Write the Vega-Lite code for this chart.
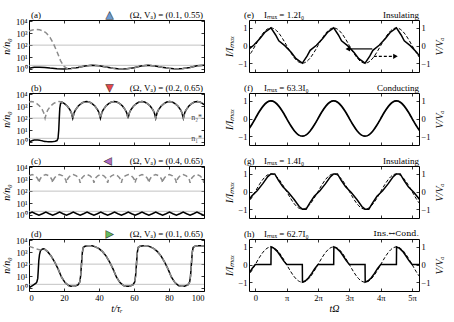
{
"$schema": "https://vega.github.io/schema/vega-lite/v6.json",
"padding": {"left": 1, "top": 9, "right": 2, "bottom": 2},
"config": {
  "font": "Liberation Serif",
  "view": {"stroke": "#000", "strokeWidth": 1},
  "axis": {"grid": false, "domain": false, "tickSize": -3, "tickColor": "#000", "tickWidth": 0.8, "labelFontSize": 8.5, "labelColor": "#000", "titleFontSize": 10, "titleFontWeight": "normal", "titleFontStyle": "italic", "titleColor": "#000", "labelFont": "Liberation Serif", "titleFont": "Liberation Serif", "labelPadding": 5},
  "text": {"font": "Liberation Serif", "fontSize": 9, "color": "#000"}
},
"datasets": {
  "one": [{}],
  "nstar": [{"n": 100}, {"n": 2}],
  "a_s": [{"t":0,"n":1.12},{"t":3,"n":1.35},{"t":6,"n":1.41},{"t":9,"n":1.32},{"t":12,"n":1.17},{"t":16,"n":1.05},{"t":20,"n":1.0},{"t":24,"n":1.07},{"t":28,"n":1.32},{"t":32,"n":1.74},{"t":36,"n":2.0},{"t":40,"n":1.82},{"t":44,"n":1.45},{"t":48,"n":1.15},{"t":52,"n":1.0},{"t":56,"n":1.05},{"t":60,"n":1.26},{"t":64,"n":1.78},{"t":68,"n":2.0},{"t":72,"n":1.78},{"t":76,"n":1.38},{"t":80,"n":1.12},{"t":84,"n":1.0},{"t":88,"n":1.07},{"t":92,"n":1.32},{"t":96,"n":1.82},{"t":100,"n":2.0}],
  "a_d": [{"t":0,"n":1500},{"t":2,"n":1900},{"t":4,"n":2050},{"t":6,"n":1950},{"t":8,"n":1600},{"t":10,"n":1000},{"t":12,"n":450},{"t":14,"n":130},{"t":16,"n":28},{"t":18,"n":5},{"t":20,"n":1.6},{"t":22,"n":1.05},{"t":24,"n":1.07},{"t":28,"n":1.32},{"t":32,"n":1.74},{"t":36,"n":2.0},{"t":40,"n":1.82},{"t":44,"n":1.45},{"t":48,"n":1.15},{"t":52,"n":1.0},{"t":56,"n":1.05},{"t":60,"n":1.26},{"t":64,"n":1.78},{"t":68,"n":2.0},{"t":72,"n":1.78},{"t":76,"n":1.38},{"t":80,"n":1.12},{"t":84,"n":1.0},{"t":88,"n":1.07},{"t":92,"n":1.32},{"t":96,"n":1.82},{"t":100,"n":2.0}],
  "b_s": [{"t":0,"n":1.0},{"t":1,"n":1.15},{"t":2,"n":1.3},{"t":3,"n":1.42},{"t":4,"n":1.48},{"t":5,"n":1.45},{"t":6,"n":1.38},{"t":7,"n":1.28},{"t":8,"n":1.18},{"t":9,"n":1.1},{"t":10,"n":1.06},{"t":11,"n":1.04},{"t":12,"n":1.04},{"t":13,"n":1.05},{"t":14,"n":1.08},{"t":15,"n":1.13},{"t":16,"n":1.3},{"t":16.6,"n":2},{"t":17,"n":10},{"t":17.3,"n":100},{"t":17.6,"n":700},{"t":18,"n":1600},{"t":18.68,"n":2239},{"t":20.26,"n":1660},{"t":21.84,"n":1047},{"t":23.42,"n":501},{"t":24.21,"n":282},{"t":25,"n":100},
    {"t":25.79,"n":282},{"t":26.58,"n":501},{"t":28.16,"n":1047},{"t":29.74,"n":1660},{"t":31.32,"n":2239},{"t":32.9,"n":2512},{"t":34.48,"n":2239},{"t":36.06,"n":1660},{"t":37.64,"n":1047},{"t":39.22,"n":501},{"t":40.01,"n":282},{"t":40.8,"n":100},
    {"t":41.59,"n":282},{"t":42.38,"n":501},{"t":43.96,"n":1047},{"t":45.54,"n":1660},{"t":47.12,"n":2239},{"t":48.7,"n":2512},{"t":50.28,"n":2239},{"t":51.86,"n":1660},{"t":53.44,"n":1047},{"t":55.02,"n":501},{"t":55.81,"n":282},{"t":56.6,"n":100},
    {"t":57.39,"n":282},{"t":58.18,"n":501},{"t":59.76,"n":1047},{"t":61.34,"n":1660},{"t":62.92,"n":2239},{"t":64.5,"n":2512},{"t":66.08,"n":2239},{"t":67.66,"n":1660},{"t":69.24,"n":1047},{"t":70.82,"n":501},{"t":71.61,"n":282},{"t":72.4,"n":100},
    {"t":73.19,"n":282},{"t":73.98,"n":501},{"t":75.56,"n":1047},{"t":77.14,"n":1660},{"t":78.72,"n":2239},{"t":80.3,"n":2512},{"t":81.88,"n":2239},{"t":83.46,"n":1660},{"t":85.04,"n":1047},{"t":86.62,"n":501},{"t":87.41,"n":282},{"t":88.2,"n":100},
    {"t":88.99,"n":282},{"t":89.78,"n":501},{"t":91.36,"n":1047},{"t":92.94,"n":1660},{"t":94.52,"n":2239},{"t":96.1,"n":2512},{"t":97.68,"n":2239},{"t":99.26,"n":1660},{"t":100,"n":1350}],
  "b_d": [{"t":0,"n":2290},{"t":1.3,"n":2512},{"t":2.88,"n":2239},{"t":4.46,"n":1660},{"t":6.04,"n":1047},{"t":7.62,"n":501},{"t":8.41,"n":282},{"t":9.2,"n":100},
    {"t":9.99,"n":282},{"t":10.78,"n":501},{"t":12.36,"n":1047},{"t":13.94,"n":1660},{"t":15.52,"n":2239},{"t":17.1,"n":2512},{"t":18.68,"n":2239},{"t":20.26,"n":1660},{"t":21.84,"n":1047},{"t":23.42,"n":501},{"t":24.21,"n":282},{"t":25,"n":100},
    {"t":25.79,"n":282},{"t":26.58,"n":501},{"t":28.16,"n":1047},{"t":29.74,"n":1660},{"t":31.32,"n":2239},{"t":32.9,"n":2512},{"t":34.48,"n":2239},{"t":36.06,"n":1660},{"t":37.64,"n":1047},{"t":39.22,"n":501},{"t":40.01,"n":282},{"t":40.8,"n":100},
    {"t":41.59,"n":282},{"t":42.38,"n":501},{"t":43.96,"n":1047},{"t":45.54,"n":1660},{"t":47.12,"n":2239},{"t":48.7,"n":2512},{"t":50.28,"n":2239},{"t":51.86,"n":1660},{"t":53.44,"n":1047},{"t":55.02,"n":501},{"t":55.81,"n":282},{"t":56.6,"n":100},
    {"t":57.39,"n":282},{"t":58.18,"n":501},{"t":59.76,"n":1047},{"t":61.34,"n":1660},{"t":62.92,"n":2239},{"t":64.5,"n":2512},{"t":66.08,"n":2239},{"t":67.66,"n":1660},{"t":69.24,"n":1047},{"t":70.82,"n":501},{"t":71.61,"n":282},{"t":72.4,"n":100},
    {"t":73.19,"n":282},{"t":73.98,"n":501},{"t":75.56,"n":1047},{"t":77.14,"n":1660},{"t":78.72,"n":2239},{"t":80.3,"n":2512},{"t":81.88,"n":2239},{"t":83.46,"n":1660},{"t":85.04,"n":1047},{"t":86.62,"n":501},{"t":87.41,"n":282},{"t":88.2,"n":100},
    {"t":88.99,"n":282},{"t":89.78,"n":501},{"t":91.36,"n":1047},{"t":92.94,"n":1660},{"t":94.52,"n":2239},{"t":96.1,"n":2512},{"t":97.68,"n":2239},{"t":99.26,"n":1660},{"t":100,"n":1350}],
  "c_s": [{"t":0,"n":1.3},{"t":1.775,"n":1.7},{"t":3.74,"n":1.25},{"t":5.7,"n":0.95},
    {"t":7.66,"n":1.25},{"t":9.625,"n":1.7},{"t":11.59,"n":1.25},{"t":13.55,"n":0.95},
    {"t":15.51,"n":1.25},{"t":17.475,"n":1.7},{"t":19.44,"n":1.25},{"t":21.4,"n":0.95},
    {"t":23.36,"n":1.25},{"t":25.325,"n":1.7},{"t":27.29,"n":1.25},{"t":29.25,"n":0.95},
    {"t":31.21,"n":1.25},{"t":33.175,"n":1.7},{"t":35.14,"n":1.25},{"t":37.1,"n":0.95},
    {"t":39.06,"n":1.25},{"t":41.025,"n":1.7},{"t":42.99,"n":1.25},{"t":44.95,"n":0.95},
    {"t":46.91,"n":1.25},{"t":48.875,"n":1.7},{"t":50.84,"n":1.25},{"t":52.8,"n":0.95},
    {"t":54.76,"n":1.25},{"t":56.725,"n":1.7},{"t":58.69,"n":1.25},{"t":60.65,"n":0.95},
    {"t":62.61,"n":1.25},{"t":64.575,"n":1.7},{"t":66.54,"n":1.25},{"t":68.5,"n":0.95},
    {"t":70.46,"n":1.25},{"t":72.425,"n":1.7},{"t":74.39,"n":1.25},{"t":76.35,"n":0.95},
    {"t":78.31,"n":1.25},{"t":80.275,"n":1.7},{"t":82.24,"n":1.25},{"t":84.2,"n":0.95},
    {"t":86.16,"n":1.25},{"t":88.125,"n":1.7},{"t":90.09,"n":1.25},{"t":92.05,"n":0.95},
    {"t":94.01,"n":1.25},{"t":95.975,"n":1.7},{"t":97.94,"n":1.25},{"t":99.9,"n":0.95},{"t":100,"n":0.96}],
  "c_d": [{"t":0,"n":1950},{"t":1.775,"n":2512},{"t":3.5,"n":1950},{"t":4.6,"n":1318},{"t":5.3,"n":891},{"t":5.7,"n":501},
    {"t":6.1,"n":891},{"t":6.8,"n":1318},{"t":7.9,"n":1950},{"t":9.625,"n":2512},{"t":11.35,"n":1950},{"t":12.45,"n":1318},{"t":13.15,"n":891},{"t":13.55,"n":501},
    {"t":13.95,"n":891},{"t":14.65,"n":1318},{"t":15.75,"n":1950},{"t":17.475,"n":2512},{"t":19.2,"n":1950},{"t":20.3,"n":1318},{"t":21,"n":891},{"t":21.4,"n":501},
    {"t":21.8,"n":891},{"t":22.5,"n":1318},{"t":23.6,"n":1950},{"t":25.325,"n":2512},{"t":27.05,"n":1950},{"t":28.15,"n":1318},{"t":28.85,"n":891},{"t":29.25,"n":501},
    {"t":29.65,"n":891},{"t":30.35,"n":1318},{"t":31.45,"n":1950},{"t":33.175,"n":2512},{"t":34.9,"n":1950},{"t":36,"n":1318},{"t":36.7,"n":891},{"t":37.1,"n":501},
    {"t":37.5,"n":891},{"t":38.2,"n":1318},{"t":39.3,"n":1950},{"t":41.025,"n":2512},{"t":42.75,"n":1950},{"t":43.85,"n":1318},{"t":44.55,"n":891},{"t":44.95,"n":501},
    {"t":45.35,"n":891},{"t":46.05,"n":1318},{"t":47.15,"n":1950},{"t":48.875,"n":2512},{"t":50.6,"n":1950},{"t":51.7,"n":1318},{"t":52.4,"n":891},{"t":52.8,"n":501},
    {"t":53.2,"n":891},{"t":53.9,"n":1318},{"t":55,"n":1950},{"t":56.725,"n":2512},{"t":58.45,"n":1950},{"t":59.55,"n":1318},{"t":60.25,"n":891},{"t":60.65,"n":501},
    {"t":61.05,"n":891},{"t":61.75,"n":1318},{"t":62.85,"n":1950},{"t":64.575,"n":2512},{"t":66.3,"n":1950},{"t":67.4,"n":1318},{"t":68.1,"n":891},{"t":68.5,"n":501},
    {"t":68.9,"n":891},{"t":69.6,"n":1318},{"t":70.7,"n":1950},{"t":72.425,"n":2512},{"t":74.15,"n":1950},{"t":75.25,"n":1318},{"t":75.95,"n":891},{"t":76.35,"n":501},
    {"t":76.75,"n":891},{"t":77.45,"n":1318},{"t":78.55,"n":1950},{"t":80.275,"n":2512},{"t":82,"n":1950},{"t":83.1,"n":1318},{"t":83.8,"n":891},{"t":84.2,"n":501},
    {"t":84.6,"n":891},{"t":85.3,"n":1318},{"t":86.4,"n":1950},{"t":88.125,"n":2512},{"t":89.85,"n":1950},{"t":90.95,"n":1318},{"t":91.65,"n":891},{"t":92.05,"n":501},
    {"t":92.45,"n":891},{"t":93.15,"n":1318},{"t":94.25,"n":1950},{"t":95.975,"n":2512},{"t":97.7,"n":1950},{"t":98.8,"n":1318},{"t":99.5,"n":891},{"t":99.9,"n":501},{"t":100,"n":600}],
  "d_s": [{"t":0,"n":1.0},{"t":1,"n":1.26},{"t":2,"n":1.58},{"t":3,"n":2.0},{"t":4,"n":2.51},{"t":4.5,"n":3.16},{"t":5,"n":6.31},{"t":5.3,"n":31.6},{"t":5.6,"n":200},{"t":6,"n":631},{"t":6.5,"n":1259},{"t":7,"n":1585},{"t":7.8,"n":1905},{"t":8.6,"n":1995},{"t":10.6,"n":1122},{"t":12.6,"n":501},{"t":14.6,"n":158},{"t":16.6,"n":39.8},{"t":18.6,"n":7.94},{"t":20.6,"n":2.82},{"t":22.6,"n":1.58},{"t":24,"n":1.41},{"t":26,"n":1.41},{"t":28,"n":1.78},{"t":29,"n":3.16},{"t":29.5,"n":10},{"t":30,"n":100},{"t":30.5,"n":1000},{"t":31,"n":2512},{"t":32,"n":3162},{"t":34,"n":3548},{"t":36,"n":3548},{"t":38,"n":2818},{"t":40,"n":1995},{"t":42,"n":1122},{"t":44,"n":501},{"t":46,"n":158},{"t":48,"n":39.8},{"t":50,"n":7.94},{"t":52,"n":2.82},{"t":54,"n":1.58},{"t":55.4,"n":1.41},{"t":57.4,"n":1.41},{"t":59.4,"n":1.78},{"t":60.4,"n":3.16},{"t":60.9,"n":10},{"t":61.4,"n":100},{"t":61.9,"n":1000},{"t":62.4,"n":2512},{"t":63.4,"n":3162},{"t":65.4,"n":3548},{"t":67.4,"n":3548},{"t":69.4,"n":2818},{"t":71.4,"n":1995},{"t":73.4,"n":1122},{"t":75.4,"n":501},{"t":77.4,"n":158},{"t":79.4,"n":39.8},{"t":81.4,"n":7.94},{"t":83.4,"n":2.82},{"t":85.4,"n":1.58},{"t":86.8,"n":1.41},{"t":88.8,"n":1.41},{"t":90.8,"n":1.78},{"t":91.8,"n":3.16},{"t":92.3,"n":10},{"t":92.8,"n":100},{"t":93.3,"n":1000},{"t":93.8,"n":2512},{"t":94.8,"n":3162},{"t":96.8,"n":3548},{"t":98.8,"n":3548},{"t":100,"n":3100}],
  "d_d": [{"t":0,"n":3162},{"t":1,"n":2818},{"t":2,"n":2512},{"t":3,"n":2239},{"t":4,"n":1995},{"t":5,"n":1778},{"t":6,"n":1660},{"t":7,"n":1660},{"t":7.8,"n":1905},{"t":8.6,"n":1995},{"t":10.6,"n":1122},{"t":12.6,"n":501},{"t":14.6,"n":158},{"t":16.6,"n":39.8},{"t":18.6,"n":7.94},{"t":20.6,"n":2.82},{"t":22.6,"n":1.58},{"t":24,"n":1.41},{"t":26,"n":1.41},{"t":28,"n":1.78},{"t":29,"n":3.16},{"t":29.5,"n":10},{"t":30,"n":100},{"t":30.5,"n":1000},{"t":31,"n":2512},{"t":32,"n":3162},{"t":34,"n":3548},{"t":36,"n":3548},{"t":38,"n":2818},{"t":40,"n":1995},{"t":42,"n":1122},{"t":44,"n":501},{"t":46,"n":158},{"t":48,"n":39.8},{"t":50,"n":7.94},{"t":52,"n":2.82},{"t":54,"n":1.58},{"t":55.4,"n":1.41},{"t":57.4,"n":1.41},{"t":59.4,"n":1.78},{"t":60.4,"n":3.16},{"t":60.9,"n":10},{"t":61.4,"n":100},{"t":61.9,"n":1000},{"t":62.4,"n":2512},{"t":63.4,"n":3162},{"t":65.4,"n":3548},{"t":67.4,"n":3548},{"t":69.4,"n":2818},{"t":71.4,"n":1995},{"t":73.4,"n":1122},{"t":75.4,"n":501},{"t":77.4,"n":158},{"t":79.4,"n":39.8},{"t":81.4,"n":7.94},{"t":83.4,"n":2.82},{"t":85.4,"n":1.58},{"t":86.8,"n":1.41},{"t":88.8,"n":1.41},{"t":90.8,"n":1.78},{"t":91.8,"n":3.16},{"t":92.3,"n":10},{"t":92.8,"n":100},{"t":93.3,"n":1000},{"t":93.8,"n":2512},{"t":94.8,"n":3162},{"t":96.8,"n":3548},{"t":98.8,"n":3548},{"t":100,"n":3100}],
  "sine": [{"x":-0.25,"v":-0.707},{"x":-0.125,"v":-0.383},{"x":0,"v":0},{"x":0.125,"v":0.383},{"x":0.25,"v":0.707},{"x":0.375,"v":0.924},{"x":0.5,"v":1},{"x":0.625,"v":0.924},{"x":0.75,"v":0.707},{"x":0.875,"v":0.383},{"x":1,"v":0},{"x":1.125,"v":-0.383},{"x":1.25,"v":-0.707},{"x":1.375,"v":-0.924},{"x":1.5,"v":-1},{"x":1.625,"v":-0.924},{"x":1.75,"v":-0.707},{"x":1.875,"v":-0.383},{"x":2,"v":0},{"x":2.125,"v":0.383},{"x":2.25,"v":0.707},{"x":2.375,"v":0.924},{"x":2.5,"v":1},{"x":2.625,"v":0.924},{"x":2.75,"v":0.707},{"x":2.875,"v":0.383},{"x":3,"v":0},{"x":3.125,"v":-0.383},{"x":3.25,"v":-0.707},{"x":3.375,"v":-0.924},{"x":3.5,"v":-1},{"x":3.625,"v":-0.924},{"x":3.75,"v":-0.707},{"x":3.875,"v":-0.383},{"x":4,"v":0},{"x":4.125,"v":0.383},{"x":4.25,"v":0.707},{"x":4.375,"v":0.924},{"x":4.5,"v":1},{"x":4.625,"v":0.924},{"x":4.75,"v":0.707},{"x":4.875,"v":0.383},{"x":5,"v":0},{"x":5.125,"v":-0.383},{"x":5.25,"v":-0.707},{"x":5.375,"v":-0.924}],
  "e_s": [{"x":-0.5,"v":-1},{"x":-0.35,"v":-0.6},{"x":-0.25,"v":-0.27},{"x":-0.05,"v":0.02},{"x":0.15,"v":0.4},{"x":0.3,"v":0.74},{"x":0.5,"v":1},{"x":0.65,"v":0.6},{"x":0.75,"v":0.27},{"x":0.95,"v":-0.02},{"x":1.15,"v":-0.4},{"x":1.3,"v":-0.74},{"x":1.5,"v":-1},{"x":1.65,"v":-0.6},{"x":1.75,"v":-0.27},{"x":1.95,"v":0.02},{"x":2.15,"v":0.4},{"x":2.3,"v":0.74},{"x":2.5,"v":1},{"x":2.65,"v":0.6},{"x":2.75,"v":0.27},{"x":2.95,"v":-0.02},{"x":3.15,"v":-0.4},{"x":3.3,"v":-0.74},{"x":3.5,"v":-1},{"x":3.65,"v":-0.6},{"x":3.75,"v":-0.27},{"x":3.95,"v":0.02},{"x":4.15,"v":0.4},{"x":4.3,"v":0.74},{"x":4.5,"v":1},{"x":4.65,"v":0.6},{"x":4.75,"v":0.27},{"x":4.95,"v":-0.02},{"x":5.15,"v":-0.4},{"x":5.3,"v":-0.74},{"x":5.5,"v":-1}],
  "g_s": [{"x":-0.5,"v":-1},{"x":-0.38,"v":-1},{"x":-0.26,"v":-0.64},{"x":-0.12,"v":-0.27},{"x":0.06,"v":0.05},{"x":0.24,"v":0.45},{"x":0.4,"v":0.85},{"x":0.5,"v":1},{"x":0.62,"v":1},{"x":0.74,"v":0.64},{"x":0.88,"v":0.27},{"x":1.06,"v":-0.05},{"x":1.24,"v":-0.45},{"x":1.4,"v":-0.85},{"x":1.5,"v":-1},{"x":1.62,"v":-1},{"x":1.74,"v":-0.64},{"x":1.88,"v":-0.27},{"x":2.06,"v":0.05},{"x":2.24,"v":0.45},{"x":2.4,"v":0.85},{"x":2.5,"v":1},{"x":2.62,"v":1},{"x":2.74,"v":0.64},{"x":2.88,"v":0.27},{"x":3.06,"v":-0.05},{"x":3.24,"v":-0.45},{"x":3.4,"v":-0.85},{"x":3.5,"v":-1},{"x":3.62,"v":-1},{"x":3.74,"v":-0.64},{"x":3.88,"v":-0.27},{"x":4.06,"v":0.05},{"x":4.24,"v":0.45},{"x":4.4,"v":0.85},{"x":4.5,"v":1},{"x":4.62,"v":1},{"x":4.74,"v":0.64},{"x":4.88,"v":0.27},{"x":5.06,"v":-0.05},{"x":5.24,"v":-0.45},{"x":5.4,"v":-0.85}],
  "h_s": [{"x":-0.5,"v":-1},{"x":-0.4,"v":-0.92},{"x":-0.3,"v":-0.75},{"x":-0.2,"v":-0.5},{"x":-0.1,"v":-0.22},{"x":0,"v":0},{"x":0.5,"v":0},{"x":0.505,"v":1},{"x":0.6,"v":0.92},{"x":0.7,"v":0.75},{"x":0.8,"v":0.5},{"x":0.9,"v":0.22},{"x":1,"v":0},{"x":1.5,"v":0},{"x":1.505,"v":-1},{"x":1.6,"v":-0.92},{"x":1.7,"v":-0.75},{"x":1.8,"v":-0.5},{"x":1.9,"v":-0.22},{"x":2,"v":0},{"x":2.5,"v":0},{"x":2.505,"v":1},{"x":2.6,"v":0.92},{"x":2.7,"v":0.75},{"x":2.8,"v":0.5},{"x":2.9,"v":0.22},{"x":3,"v":0},{"x":3.5,"v":0},{"x":3.505,"v":-1},{"x":3.6,"v":-0.92},{"x":3.7,"v":-0.75},{"x":3.8,"v":-0.5},{"x":3.9,"v":-0.22},{"x":4,"v":0},{"x":4.5,"v":0},{"x":4.505,"v":1},{"x":4.6,"v":0.92},{"x":4.7,"v":0.75},{"x":4.8,"v":0.5},{"x":4.9,"v":0.22},{"x":5,"v":0},{"x":5.3,"v":0}]
},
"columns": 2,
"spacing": {"row": 21, "column": 45},
"bounds": "flush",
"concat": [
  {"width": 175, "height": 52, "resolve": {"axis": {"x": "independent", "y": "independent"}},
   "layer": [
    {"data": {"name": "nstar"}, "mark": {"type": "rule", "color": "#b4b4b4", "strokeWidth": 0.8}, "encoding": {"y": {"field": "n", "type": "quantitative", "scale": {"type": "log", "domain": [0.55, 13000], "nice": false}, "axis": null}}},
    {"data": {"name": "a_s"}, "mark": {"type": "line", "color": "#000", "strokeWidth": 1.5, "clip": true}, "encoding": {"x": {"field": "t", "type": "quantitative", "scale": {"domain": [0, 100], "nice": false, "zero": false}, "axis": {"orient": "bottom", "values": [0,20,40,60,80,100], "labels": false, "title": null}}, "y": {"field": "n", "type": "quantitative", "scale": {"type": "log", "domain": [0.55, 13000], "nice": false}, "axis": {"orient": "left", "values": [1,10,100,1000,10000], "labelExpr": "'10' + ['⁰','¹','²','³','⁴'][round(log(datum.value)/LN10)]", "title": "n/n₀", "titlePadding": 4}}}},
    {"data": {"name": "a_d"}, "mark": {"type": "line", "color": "#8c8c8c", "strokeWidth": 1.5, "strokeDash": [5, 3], "clip": true}, "encoding": {"x": {"field": "t", "type": "quantitative", "scale": {"domain": [0, 100], "nice": false, "zero": false}, "axis": {"orient": "top", "values": [0,20,40,60,80,100], "labels": false, "title": null}}, "y": {"field": "n", "type": "quantitative", "scale": {"type": "log", "domain": [0.55, 13000], "nice": false}, "axis": {"orient": "right", "values": [1,10,100,1000,10000], "labels": false, "title": null}}}},
    {"data": {"name": "one"}, "mark": {"type": "text", "align": "left", "dx": 2, "dy": -5}, "encoding": {"x": {"datum": 0, "type": "quantitative", "scale": {"domain": [0, 100], "nice": false, "zero": false}, "axis": null}, "y": {"datum": 13000, "type": "quantitative", "scale": {"type": "log", "domain": [0.55, 13000], "nice": false}, "axis": null}, "text": {"value": "(a)"}}},
    {"data": {"name": "one"}, "mark": {"type": "text", "align": "right", "dx": -1, "dy": -5}, "encoding": {"x": {"datum": 100, "type": "quantitative", "scale": {"domain": [0, 100], "nice": false, "zero": false}, "axis": null}, "y": {"datum": 13000, "type": "quantitative", "scale": {"type": "log", "domain": [0.55, 13000], "nice": false}, "axis": null}, "text": {"value": "(Ω, Vₐ) = (0.1, 0.55)"}}},
    {"data": {"name": "one"}, "mark": {"type": "text", "align": "center", "dy": -5, "font": "DejaVu Sans", "fontSize": 10, "color": "#6b9bd1", "stroke": "#2b2b2b", "strokeWidth": 0.5}, "encoding": {"x": {"datum": 46, "type": "quantitative", "scale": {"domain": [0, 100], "nice": false, "zero": false}, "axis": null}, "y": {"datum": 13000, "type": "quantitative", "scale": {"type": "log", "domain": [0.55, 13000], "nice": false}, "axis": null}, "text": {"value": "▲"}}}
   ]},
  {"width": 170, "height": 52, "resolve": {"axis": {"x": "independent", "y": "independent"}},
   "layer": [
    {"data": {"name": "sine"}, "mark": {"type": "line", "color": "#000", "strokeWidth": 1, "strokeDash": [3.5, 2], "interpolate": "monotone", "clip": true}, "encoding": {"x": {"field": "x", "type": "quantitative", "scale": {"domain": [-0.2, 5.22], "nice": false, "zero": false}, "axis": {"orient": "top", "values": [0,1,2,3,4,5], "labels": false, "title": null}}, "y": {"field": "v", "type": "quantitative", "scale": {"domain": [-1.5, 1.45], "nice": false, "zero": false}, "axis": {"orient": "right", "values": [-1,0,1], "title": "V/Vₐ", "titlePadding": 4, "titleAngle": 270, "titleBaseline": "top"}}}},
    {"data": {"name": "e_s"}, "mark": {"type": "line", "color": "#000", "strokeWidth": 1.5, "clip": true}, "encoding": {"x": {"field": "x", "type": "quantitative", "scale": {"domain": [-0.2, 5.22], "nice": false, "zero": false}, "axis": {"orient": "bottom", "values": [0,1,2,3,4,5], "labels": false, "title": null}}, "y": {"field": "v", "type": "quantitative", "scale": {"domain": [-1.5, 1.45], "nice": false, "zero": false}, "axis": {"orient": "left", "values": [-1,0,1], "title": "I/Iₘₐₓ", "titlePadding": 3}}}},
    {"data": {"name": "one"}, "mark": {"type": "rule", "color": "#000", "strokeWidth": 1.2}, "encoding": {"x": {"datum": 2.98, "type": "quantitative", "scale": {"domain": [-0.2, 5.22], "nice": false, "zero": false}, "axis": null}, "x2": {"datum": 3.73}, "y": {"datum": -0.19, "type": "quantitative", "scale": {"domain": [-1.5, 1.45], "nice": false, "zero": false}, "axis": null}}},
    {"data": {"name": "one"}, "mark": {"type": "point", "shape": "triangle-left", "filled": true, "color": "#000", "size": 28, "opacity": 1}, "encoding": {"x": {"datum": 2.95, "type": "quantitative", "scale": {"domain": [-0.2, 5.22], "nice": false, "zero": false}, "axis": null}, "y": {"datum": -0.19, "type": "quantitative", "scale": {"domain": [-1.5, 1.45], "nice": false, "zero": false}, "axis": null}}},
    {"data": {"name": "one"}, "mark": {"type": "rule", "color": "#000", "strokeWidth": 1.2, "strokeDash": [3, 2]}, "encoding": {"x": {"datum": 3.78, "type": "quantitative", "scale": {"domain": [-0.2, 5.22], "nice": false, "zero": false}, "axis": null}, "x2": {"datum": 4.44}, "y": {"datum": -0.61, "type": "quantitative", "scale": {"domain": [-1.5, 1.45], "nice": false, "zero": false}, "axis": null}}},
    {"data": {"name": "one"}, "mark": {"type": "point", "shape": "triangle-right", "filled": true, "color": "#000", "size": 28, "opacity": 1}, "encoding": {"x": {"datum": 4.47, "type": "quantitative", "scale": {"domain": [-0.2, 5.22], "nice": false, "zero": false}, "axis": null}, "y": {"datum": -0.61, "type": "quantitative", "scale": {"domain": [-1.5, 1.45], "nice": false, "zero": false}, "axis": null}}},
    {"data": {"name": "one"}, "mark": {"type": "text", "align": "left", "dx": -5, "dy": -5}, "encoding": {"x": {"datum": -0.2, "type": "quantitative", "scale": {"domain": [-0.2, 5.22], "nice": false, "zero": false}, "axis": null}, "y": {"datum": 1.45, "type": "quantitative", "scale": {"domain": [-1.5, 1.45], "nice": false, "zero": false}, "axis": null}, "text": {"value": "(e)"}}},
    {"data": {"name": "one"}, "mark": {"type": "text", "align": "left", "dx": 15, "dy": -5}, "encoding": {"x": {"datum": -0.2, "type": "quantitative", "scale": {"domain": [-0.2, 5.22], "nice": false, "zero": false}, "axis": null}, "y": {"datum": 1.45, "type": "quantitative", "scale": {"domain": [-1.5, 1.45], "nice": false, "zero": false}, "axis": null}, "text": {"value": "Iₘₐₓ = 1.2I₀"}}},
    {"data": {"name": "one"}, "mark": {"type": "text", "align": "right", "dx": 0, "dy": -5}, "encoding": {"x": {"datum": 5.22, "type": "quantitative", "scale": {"domain": [-0.2, 5.22], "nice": false, "zero": false}, "axis": null}, "y": {"datum": 1.45, "type": "quantitative", "scale": {"domain": [-1.5, 1.45], "nice": false, "zero": false}, "axis": null}, "text": {"value": "Insulating"}}}
   ]},
  {"width": 175, "height": 52, "resolve": {"axis": {"x": "independent", "y": "independent"}},
   "layer": [
    {"data": {"name": "nstar"}, "mark": {"type": "rule", "color": "#b4b4b4", "strokeWidth": 0.8}, "encoding": {"y": {"field": "n", "type": "quantitative", "scale": {"type": "log", "domain": [0.55, 13000], "nice": false}, "axis": null}}},
    {"data": {"name": "b_s"}, "mark": {"type": "line", "color": "#000", "strokeWidth": 1.5, "clip": true}, "encoding": {"x": {"field": "t", "type": "quantitative", "scale": {"domain": [0, 100], "nice": false, "zero": false}, "axis": {"orient": "bottom", "values": [0,20,40,60,80,100], "labels": false, "title": null}}, "y": {"field": "n", "type": "quantitative", "scale": {"type": "log", "domain": [0.55, 13000], "nice": false}, "axis": {"orient": "left", "values": [1,10,100,1000,10000], "labelExpr": "'10' + ['⁰','¹','²','³','⁴'][round(log(datum.value)/LN10)]", "title": "n/n₀", "titlePadding": 4}}}},
    {"data": {"name": "b_d"}, "mark": {"type": "line", "color": "#8c8c8c", "strokeWidth": 1.5, "strokeDash": [5, 3], "clip": true}, "encoding": {"x": {"field": "t", "type": "quantitative", "scale": {"domain": [0, 100], "nice": false, "zero": false}, "axis": {"orient": "top", "values": [0,20,40,60,80,100], "labels": false, "title": null}}, "y": {"field": "n", "type": "quantitative", "scale": {"type": "log", "domain": [0.55, 13000], "nice": false}, "axis": {"orient": "right", "values": [1,10,100,1000,10000], "labels": false, "title": null}}}},
    {"data": {"name": "one"}, "mark": {"type": "text", "align": "right", "baseline": "middle", "dx": -2, "fontSize": 8, "color": "#444"}, "encoding": {"x": {"datum": 100, "type": "quantitative", "scale": {"domain": [0, 100], "nice": false, "zero": false}, "axis": null}, "y": {"datum": 100, "type": "quantitative", "scale": {"type": "log", "domain": [0.55, 13000], "nice": false}, "axis": null}, "text": {"value": "n₂*"}}},
    {"data": {"name": "one"}, "mark": {"type": "text", "align": "right", "baseline": "middle", "dx": -2, "dy": 1, "fontSize": 8, "color": "#444"}, "encoding": {"x": {"datum": 100, "type": "quantitative", "scale": {"domain": [0, 100], "nice": false, "zero": false}, "axis": null}, "y": {"datum": 2, "type": "quantitative", "scale": {"type": "log", "domain": [0.55, 13000], "nice": false}, "axis": null}, "text": {"value": "n₁*"}}},
    {"data": {"name": "one"}, "mark": {"type": "text", "align": "left", "dx": 2, "dy": -5}, "encoding": {"x": {"datum": 0, "type": "quantitative", "scale": {"domain": [0, 100], "nice": false, "zero": false}, "axis": null}, "y": {"datum": 13000, "type": "quantitative", "scale": {"type": "log", "domain": [0.55, 13000], "nice": false}, "axis": null}, "text": {"value": "(b)"}}},
    {"data": {"name": "one"}, "mark": {"type": "text", "align": "right", "dx": -1, "dy": -5}, "encoding": {"x": {"datum": 100, "type": "quantitative", "scale": {"domain": [0, 100], "nice": false, "zero": false}, "axis": null}, "y": {"datum": 13000, "type": "quantitative", "scale": {"type": "log", "domain": [0.55, 13000], "nice": false}, "axis": null}, "text": {"value": "(Ω, Vₐ) = (0.2, 0.65)"}}},
    {"data": {"name": "one"}, "mark": {"type": "text", "align": "center", "dy": -5, "font": "DejaVu Sans", "fontSize": 10, "color": "#e8474b", "stroke": "#2b2b2b", "strokeWidth": 0.5}, "encoding": {"x": {"datum": 46, "type": "quantitative", "scale": {"domain": [0, 100], "nice": false, "zero": false}, "axis": null}, "y": {"datum": 13000, "type": "quantitative", "scale": {"type": "log", "domain": [0.55, 13000], "nice": false}, "axis": null}, "text": {"value": "▼"}}}
   ]},
  {"width": 170, "height": 52, "resolve": {"axis": {"x": "independent", "y": "independent"}},
   "layer": [
    {"data": {"name": "sine"}, "mark": {"type": "line", "color": "#000", "strokeWidth": 1, "strokeDash": [3.5, 2], "interpolate": "monotone", "clip": true}, "encoding": {"x": {"field": "x", "type": "quantitative", "scale": {"domain": [-0.2, 5.22], "nice": false, "zero": false}, "axis": {"orient": "top", "values": [0,1,2,3,4,5], "labels": false, "title": null}}, "y": {"field": "v", "type": "quantitative", "scale": {"domain": [-1.5, 1.45], "nice": false, "zero": false}, "axis": {"orient": "right", "values": [-1,0,1], "title": "V/Vₐ", "titlePadding": 4, "titleAngle": 270, "titleBaseline": "top"}}}},
    {"data": {"name": "sine"}, "mark": {"type": "line", "color": "#000", "strokeWidth": 1.7, "interpolate": "monotone", "clip": true}, "encoding": {"x": {"field": "x", "type": "quantitative", "scale": {"domain": [-0.2, 5.22], "nice": false, "zero": false}, "axis": {"orient": "bottom", "values": [0,1,2,3,4,5], "labels": false, "title": null}}, "y": {"field": "v", "type": "quantitative", "scale": {"domain": [-1.5, 1.45], "nice": false, "zero": false}, "axis": {"orient": "left", "values": [-1,0,1], "title": "I/Iₘₐₓ", "titlePadding": 3}}}},
    {"data": {"name": "one"}, "mark": {"type": "text", "align": "left", "dx": -5, "dy": -5}, "encoding": {"x": {"datum": -0.2, "type": "quantitative", "scale": {"domain": [-0.2, 5.22], "nice": false, "zero": false}, "axis": null}, "y": {"datum": 1.45, "type": "quantitative", "scale": {"domain": [-1.5, 1.45], "nice": false, "zero": false}, "axis": null}, "text": {"value": "(f)"}}},
    {"data": {"name": "one"}, "mark": {"type": "text", "align": "left", "dx": 15, "dy": -5}, "encoding": {"x": {"datum": -0.2, "type": "quantitative", "scale": {"domain": [-0.2, 5.22], "nice": false, "zero": false}, "axis": null}, "y": {"datum": 1.45, "type": "quantitative", "scale": {"domain": [-1.5, 1.45], "nice": false, "zero": false}, "axis": null}, "text": {"value": "Iₘₐₓ = 63.3I₀"}}},
    {"data": {"name": "one"}, "mark": {"type": "text", "align": "right", "dx": 0, "dy": -5}, "encoding": {"x": {"datum": 5.22, "type": "quantitative", "scale": {"domain": [-0.2, 5.22], "nice": false, "zero": false}, "axis": null}, "y": {"datum": 1.45, "type": "quantitative", "scale": {"domain": [-1.5, 1.45], "nice": false, "zero": false}, "axis": null}, "text": {"value": "Conducting"}}}
   ]},
  {"width": 175, "height": 52, "resolve": {"axis": {"x": "independent", "y": "independent"}},
   "layer": [
    {"data": {"name": "nstar"}, "mark": {"type": "rule", "color": "#b4b4b4", "strokeWidth": 0.8}, "encoding": {"y": {"field": "n", "type": "quantitative", "scale": {"type": "log", "domain": [0.55, 13000], "nice": false}, "axis": null}}},
    {"data": {"name": "c_s"}, "mark": {"type": "line", "color": "#000", "strokeWidth": 1.5, "clip": true}, "encoding": {"x": {"field": "t", "type": "quantitative", "scale": {"domain": [0, 100], "nice": false, "zero": false}, "axis": {"orient": "bottom", "values": [0,20,40,60,80,100], "labels": false, "title": null}}, "y": {"field": "n", "type": "quantitative", "scale": {"type": "log", "domain": [0.55, 13000], "nice": false}, "axis": {"orient": "left", "values": [1,10,100,1000,10000], "labelExpr": "'10' + ['⁰','¹','²','³','⁴'][round(log(datum.value)/LN10)]", "title": "n/n₀", "titlePadding": 4}}}},
    {"data": {"name": "c_d"}, "mark": {"type": "line", "color": "#8c8c8c", "strokeWidth": 1.5, "strokeDash": [5, 3], "clip": true}, "encoding": {"x": {"field": "t", "type": "quantitative", "scale": {"domain": [0, 100], "nice": false, "zero": false}, "axis": {"orient": "top", "values": [0,20,40,60,80,100], "labels": false, "title": null}}, "y": {"field": "n", "type": "quantitative", "scale": {"type": "log", "domain": [0.55, 13000], "nice": false}, "axis": {"orient": "right", "values": [1,10,100,1000,10000], "labels": false, "title": null}}}},
    {"data": {"name": "one"}, "mark": {"type": "text", "align": "left", "dx": 2, "dy": -5}, "encoding": {"x": {"datum": 0, "type": "quantitative", "scale": {"domain": [0, 100], "nice": false, "zero": false}, "axis": null}, "y": {"datum": 13000, "type": "quantitative", "scale": {"type": "log", "domain": [0.55, 13000], "nice": false}, "axis": null}, "text": {"value": "(c)"}}},
    {"data": {"name": "one"}, "mark": {"type": "text", "align": "right", "dx": -1, "dy": -5}, "encoding": {"x": {"datum": 100, "type": "quantitative", "scale": {"domain": [0, 100], "nice": false, "zero": false}, "axis": null}, "y": {"datum": 13000, "type": "quantitative", "scale": {"type": "log", "domain": [0.55, 13000], "nice": false}, "axis": null}, "text": {"value": "(Ω, Vₐ) = (0.4, 0.65)"}}},
    {"data": {"name": "one"}, "mark": {"type": "text", "align": "center", "dy": -5, "font": "DejaVu Sans", "fontSize": 10, "color": "#b46bc2", "stroke": "#2b2b2b", "strokeWidth": 0.5}, "encoding": {"x": {"datum": 45, "type": "quantitative", "scale": {"domain": [0, 100], "nice": false, "zero": false}, "axis": null}, "y": {"datum": 13000, "type": "quantitative", "scale": {"type": "log", "domain": [0.55, 13000], "nice": false}, "axis": null}, "text": {"value": "◀"}}}
   ]},
  {"width": 170, "height": 52, "resolve": {"axis": {"x": "independent", "y": "independent"}},
   "layer": [
    {"data": {"name": "sine"}, "mark": {"type": "line", "color": "#000", "strokeWidth": 1, "strokeDash": [3.5, 2], "interpolate": "monotone", "clip": true}, "encoding": {"x": {"field": "x", "type": "quantitative", "scale": {"domain": [-0.2, 5.22], "nice": false, "zero": false}, "axis": {"orient": "top", "values": [0,1,2,3,4,5], "labels": false, "title": null}}, "y": {"field": "v", "type": "quantitative", "scale": {"domain": [-1.5, 1.45], "nice": false, "zero": false}, "axis": {"orient": "right", "values": [-1,0,1], "title": "V/Vₐ", "titlePadding": 4, "titleAngle": 270, "titleBaseline": "top"}}}},
    {"data": {"name": "g_s"}, "mark": {"type": "line", "color": "#000", "strokeWidth": 1.5, "clip": true}, "encoding": {"x": {"field": "x", "type": "quantitative", "scale": {"domain": [-0.2, 5.22], "nice": false, "zero": false}, "axis": {"orient": "bottom", "values": [0,1,2,3,4,5], "labels": false, "title": null}}, "y": {"field": "v", "type": "quantitative", "scale": {"domain": [-1.5, 1.45], "nice": false, "zero": false}, "axis": {"orient": "left", "values": [-1,0,1], "title": "I/Iₘₐₓ", "titlePadding": 3}}}},
    {"data": {"name": "one"}, "mark": {"type": "text", "align": "left", "dx": -5, "dy": -5}, "encoding": {"x": {"datum": -0.2, "type": "quantitative", "scale": {"domain": [-0.2, 5.22], "nice": false, "zero": false}, "axis": null}, "y": {"datum": 1.45, "type": "quantitative", "scale": {"domain": [-1.5, 1.45], "nice": false, "zero": false}, "axis": null}, "text": {"value": "(g)"}}},
    {"data": {"name": "one"}, "mark": {"type": "text", "align": "left", "dx": 15, "dy": -5}, "encoding": {"x": {"datum": -0.2, "type": "quantitative", "scale": {"domain": [-0.2, 5.22], "nice": false, "zero": false}, "axis": null}, "y": {"datum": 1.45, "type": "quantitative", "scale": {"domain": [-1.5, 1.45], "nice": false, "zero": false}, "axis": null}, "text": {"value": "Iₘₐₓ = 1.4I₀"}}},
    {"data": {"name": "one"}, "mark": {"type": "text", "align": "right", "dx": 0, "dy": -5}, "encoding": {"x": {"datum": 5.22, "type": "quantitative", "scale": {"domain": [-0.2, 5.22], "nice": false, "zero": false}, "axis": null}, "y": {"datum": 1.45, "type": "quantitative", "scale": {"domain": [-1.5, 1.45], "nice": false, "zero": false}, "axis": null}, "text": {"value": "Insulating"}}}
   ]},
  {"width": 175, "height": 52, "resolve": {"axis": {"x": "independent", "y": "independent"}},
   "layer": [
    {"data": {"name": "nstar"}, "mark": {"type": "rule", "color": "#b4b4b4", "strokeWidth": 0.8}, "encoding": {"y": {"field": "n", "type": "quantitative", "scale": {"type": "log", "domain": [0.55, 13000], "nice": false}, "axis": null}}},
    {"data": {"name": "d_s"}, "mark": {"type": "line", "color": "#000", "strokeWidth": 1.5, "clip": true}, "encoding": {"x": {"field": "t", "type": "quantitative", "scale": {"domain": [0, 100], "nice": false, "zero": false}, "axis": {"orient": "bottom", "values": [0,20,40,60,80,100], "title": "t/τᵣ", "titlePadding": 2}}, "y": {"field": "n", "type": "quantitative", "scale": {"type": "log", "domain": [0.55, 13000], "nice": false}, "axis": {"orient": "left", "values": [1,10,100,1000,10000], "labelExpr": "'10' + ['⁰','¹','²','³','⁴'][round(log(datum.value)/LN10)]", "title": "n/n₀", "titlePadding": 4}}}},
    {"data": {"name": "d_d"}, "mark": {"type": "line", "color": "#8c8c8c", "strokeWidth": 1.5, "strokeDash": [5, 3], "clip": true}, "encoding": {"x": {"field": "t", "type": "quantitative", "scale": {"domain": [0, 100], "nice": false, "zero": false}, "axis": {"orient": "top", "values": [0,20,40,60,80,100], "labels": false, "title": null}}, "y": {"field": "n", "type": "quantitative", "scale": {"type": "log", "domain": [0.55, 13000], "nice": false}, "axis": {"orient": "right", "values": [1,10,100,1000,10000], "labels": false, "title": null}}}},
    {"data": {"name": "one"}, "mark": {"type": "text", "align": "left", "dx": 2, "dy": -5}, "encoding": {"x": {"datum": 0, "type": "quantitative", "scale": {"domain": [0, 100], "nice": false, "zero": false}, "axis": null}, "y": {"datum": 13000, "type": "quantitative", "scale": {"type": "log", "domain": [0.55, 13000], "nice": false}, "axis": null}, "text": {"value": "(d)"}}},
    {"data": {"name": "one"}, "mark": {"type": "text", "align": "right", "dx": -1, "dy": -5}, "encoding": {"x": {"datum": 100, "type": "quantitative", "scale": {"domain": [0, 100], "nice": false, "zero": false}, "axis": null}, "y": {"datum": 13000, "type": "quantitative", "scale": {"type": "log", "domain": [0.55, 13000], "nice": false}, "axis": null}, "text": {"value": "(Ω, Vₐ) = (0.1, 0.65)"}}},
    {"data": {"name": "one"}, "mark": {"type": "text", "align": "center", "dy": -5, "font": "DejaVu Sans", "fontSize": 10, "color": "#66bb5c", "stroke": "#2b2b2b", "strokeWidth": 0.5}, "encoding": {"x": {"datum": 46, "type": "quantitative", "scale": {"domain": [0, 100], "nice": false, "zero": false}, "axis": null}, "y": {"datum": 13000, "type": "quantitative", "scale": {"type": "log", "domain": [0.55, 13000], "nice": false}, "axis": null}, "text": {"value": "▶"}}}
   ]},
  {"width": 170, "height": 52, "resolve": {"axis": {"x": "independent", "y": "independent"}},
   "layer": [
    {"data": {"name": "sine"}, "mark": {"type": "line", "color": "#000", "strokeWidth": 1, "strokeDash": [3.5, 2], "interpolate": "monotone", "clip": true}, "encoding": {"x": {"field": "x", "type": "quantitative", "scale": {"domain": [-0.2, 5.22], "nice": false, "zero": false}, "axis": {"orient": "top", "values": [0,1,2,3,4,5], "labels": false, "title": null}}, "y": {"field": "v", "type": "quantitative", "scale": {"domain": [-1.5, 1.45], "nice": false, "zero": false}, "axis": {"orient": "right", "values": [-1,0,1], "title": "V/Vₐ", "titlePadding": 4, "titleAngle": 270, "titleBaseline": "top"}}}},
    {"data": {"name": "h_s"}, "mark": {"type": "line", "color": "#000", "strokeWidth": 1.5, "clip": true}, "encoding": {"x": {"field": "x", "type": "quantitative", "scale": {"domain": [-0.2, 5.22], "nice": false, "zero": false}, "axis": {"orient": "bottom", "values": [0,1,2,3,4,5], "labelExpr": "datum.value == 0 ? '0' : (datum.value == 1 ? 'π' : datum.value + 'π')", "title": "tΩ", "titlePadding": 2}}, "y": {"field": "v", "type": "quantitative", "scale": {"domain": [-1.5, 1.45], "nice": false, "zero": false}, "axis": {"orient": "left", "values": [-1,0,1], "title": "I/Iₘₐₓ", "titlePadding": 3}}}},
    {"data": {"name": "one"}, "mark": {"type": "text", "align": "left", "dx": -5, "dy": -5}, "encoding": {"x": {"datum": -0.2, "type": "quantitative", "scale": {"domain": [-0.2, 5.22], "nice": false, "zero": false}, "axis": null}, "y": {"datum": 1.45, "type": "quantitative", "scale": {"domain": [-1.5, 1.45], "nice": false, "zero": false}, "axis": null}, "text": {"value": "(h)"}}},
    {"data": {"name": "one"}, "mark": {"type": "text", "align": "left", "dx": 15, "dy": -5}, "encoding": {"x": {"datum": -0.2, "type": "quantitative", "scale": {"domain": [-0.2, 5.22], "nice": false, "zero": false}, "axis": null}, "y": {"datum": 1.45, "type": "quantitative", "scale": {"domain": [-1.5, 1.45], "nice": false, "zero": false}, "axis": null}, "text": {"value": "Iₘₐₓ = 62.7I₀"}}},
    {"data": {"name": "one"}, "mark": {"type": "text", "align": "right", "dx": 0, "dy": -5, "font": "DejaVu Serif", "fontSize": 8}, "encoding": {"x": {"datum": 5.22, "type": "quantitative", "scale": {"domain": [-0.2, 5.22], "nice": false, "zero": false}, "axis": null}, "y": {"datum": 1.45, "type": "quantitative", "scale": {"domain": [-1.5, 1.45], "nice": false, "zero": false}, "axis": null}, "text": {"value": "Ins.↔Cond."}}}
   ]}
]
}
